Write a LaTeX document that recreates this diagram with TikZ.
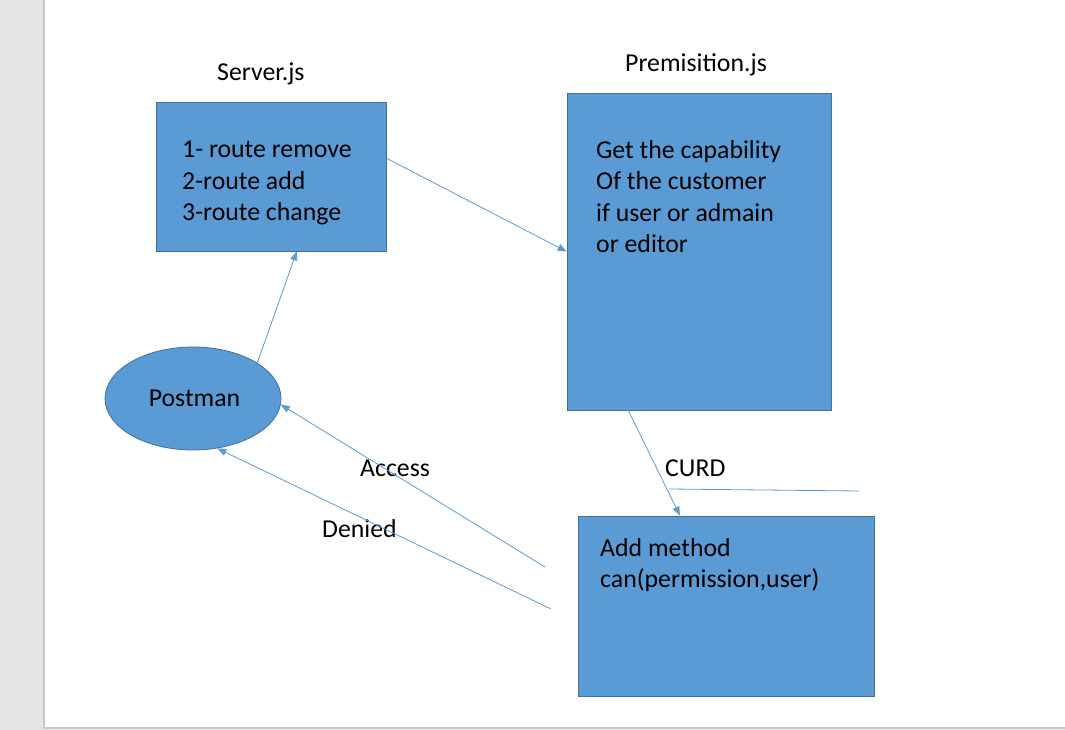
\documentclass[tikz,border=0pt]{standalone}
\usepackage{fontspec}
\setmainfont{Carlito}
\usepackage{tikz}
\usetikzlibrary{arrows.meta}
\definecolor{boxfill}{HTML}{5B9BD5}
\definecolor{boxline}{HTML}{41719C}
\definecolor{pagegray}{HTML}{E6E6E6}
\definecolor{pageedge}{HTML}{C8C8C8}
\tikzset{%
  arr/.style = {-{Triangle[length=9pt,width=7pt]},draw=boxfill,line width=0.8pt},
  ln/.style = {draw=boxfill,line width=0.8pt},
  b/.style = {rectangle,draw=boxline,fill=boxfill,line width=0.8pt,inner sep=0pt},
  e/.style = {ellipse,draw=boxline,fill=boxfill,line width=0.8pt,inner sep=0pt,
        minimum width=176pt,minimum height=103pt},
  t/.style = {inner sep=0pt,align=left,anchor=base west,
        font=\fontsize{25.8}{31.5}\selectfont}
}
\usetikzlibrary{shapes.geometric}
\begin{document}
\begin{tikzpicture}[x=1pt,y=-1pt]
    \useasboundingbox (0,0) rectangle (1065,730);
    \fill[pagegray] (0,0) rectangle (1065,730);
    \fill[white] (45,0) rectangle (1065,728);
    \draw[pageedge,line width=1.5pt] (44,0) -- (44,728) -- (1065,728);
    % boxes
    \node[b,minimum width=230pt,minimum height=149pt] (server) at (271,176.5) {};
    \node[b,minimum width=264pt,minimum height=317pt] (perm) at (699,251.5) {};
    \node[b,minimum width=296pt,minimum height=180pt] (add) at (726,606) {};
    \node[e,font=\fontsize{25.8}{31.5}\selectfont] (postman) at (193,398.5) {\hspace*{3pt}Postman};
    % texts (base = last line)
    \node[t] (servertitle) at (217,81) {Server.js};
    \node[t] (permtitle) at (625,72) {Premisition.js};
    \node[t] (servertext) at (182,221) {1- route remove\\2-route add\\3-route change};
    \node[t] (permtext) at (596,252.5) {Get the capability\\Of the customer\\if user or admain\\or editor};
    \node[t] (addtext) at (600,587.5) {Add method\\can(permission,user)};
    \node[t] (access) at (360,476) {Access};
    \node[t] (denied) at (322,537) {Denied};
    \node[t] (curd) at (665,476) {CURD};
    % connectors
    \coordinate (accessend) at (545,567);
    \coordinate (deniedend) at (551,609);
    \coordinate (curdA) at (669,489);
    \coordinate (curdB) at (859,491);
    \draw[arr] (postman.29.4) -- (server.-71.4);
    \draw[arr] (server.9.1) -- (perm.west);
    \draw[arr] (perm.-114.7) -- (add.117.1);
    \draw[arr] (accessend) -- (postman.-4.5);
    \draw[arr] (deniedend) -- (postman.-64.3);
    \draw[ln] (curdA) -- (curdB);
\end{tikzpicture}
\end{document}
